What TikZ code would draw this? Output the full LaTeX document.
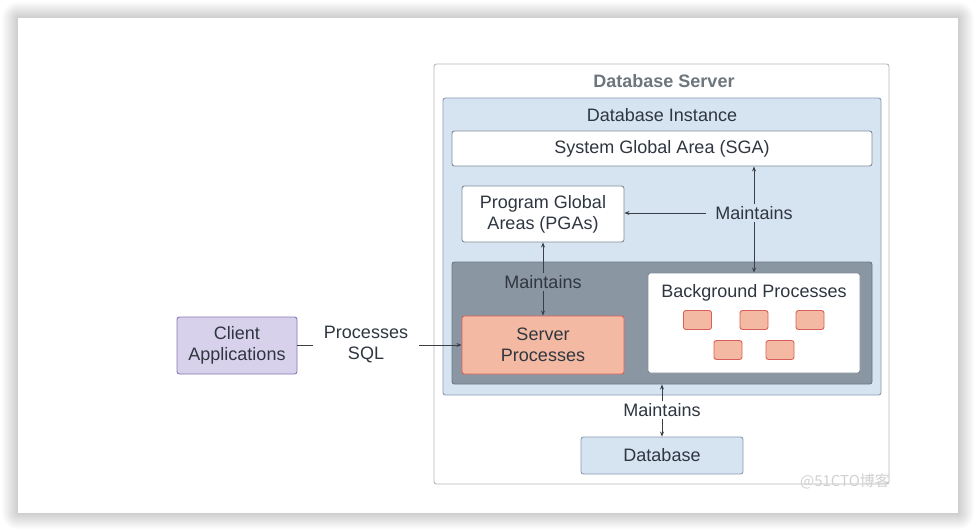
\documentclass[tikz,border=0pt]{standalone}
\usepackage{fontspec}
\setmainfont{Liberation Sans}
\newfontfamily\cjkfont{Noto Sans CJK SC}
\usetikzlibrary{arrows.meta}
\definecolor{txt}{HTML}{2F3640}
\definecolor{srvborder}{HTML}{B8B8B8}
\definecolor{srvtitle}{HTML}{6D757D}
\definecolor{instfill}{HTML}{D6E4F1}
\definecolor{instborder}{HTML}{8A9BB0}
\definecolor{darkfill}{HTML}{8B96A3}
\definecolor{darkborder}{HTML}{6B7785}
\definecolor{wborder}{HTML}{7F8C99}
\definecolor{spfill}{HTML}{F4B9A2}
\definecolor{spborder}{HTML}{D9605A}
\definecolor{clfill}{HTML}{D8D1EC}
\definecolor{clborder}{HTML}{8679B3}
\definecolor{arrcol}{HTML}{3A3F45}
\tikzset{
  every node/.style={font=\fontsize{18pt}{21pt}\selectfont, text=txt, align=center},
  box/.style={draw, line width=0.9pt, rounded corners=2.5pt, inner sep=0pt},
  whitebox/.style={box, fill=white, draw=wborder},
  container/.style={box},
  lbl/.style={inner xsep=9pt, inner ysep=2pt},
  arr/.style={draw=arrcol, line width=0.8pt, -{Stealth[length=5pt,width=4pt]}},
  plain/.style={draw=arrcol, line width=0.8pt},
  smallbox/.style={box, fill=spfill, draw=spborder, minimum width=28pt, minimum height=19pt},
}
\begin{document}
\begin{tikzpicture}[x=1pt,y=-1pt]
\useasboundingbox (0,0) rectangle (977,531);
\fill[white] (0,0) rectangle (977,531);
% card shadow
\foreach \i in {0,...,16} {
  \fill[black, opacity=0.012, rounded corners=\i pt] (18-\i,18-\i) rectangle (958+\i,513+\i);
}
\fill[white] (18,18) rectangle (958,513);

% containers
\node[container, fill=white, draw=srvborder, minimum width=455pt, minimum height=420pt] (server) at (661.5,274) {};
\node[font=\bfseries\fontsize{18pt}{21pt}\selectfont, text=srvtitle] (servertitle) at (664,81) {Database Server};
\node[container, fill=instfill, draw=instborder, minimum width=438pt, minimum height=297pt] (inst) at (662,246.5) {};
\node (insttitle) at (662,115) {Database Instance};

\node[whitebox, minimum width=420pt, minimum height=35pt] (sga) at (662,148.5) {System Global Area (SGA)};
\node[whitebox, minimum width=162pt, minimum height=56pt] (pga) at (543,214) {Program Global\\Areas (PGAs)};

\node[container, fill=darkfill, draw=darkborder, minimum width=420pt, minimum height=122pt] (dark) at (662,323) {};

\node[box, fill=spfill, draw=spborder, minimum width=162pt, minimum height=58pt] (sp) at (543,345) {Server\\Processes};
\node[whitebox, minimum width=212pt, minimum height=100pt] (bg) at (754,323) {};
\node (bgtitle) at (754,292.5) {Background Processes};
\node[smallbox] (b1) at (697.5,320) {};
\node[smallbox] (b2) at (754,320) {};
\node[smallbox] (b3) at (810,320) {};
\node[smallbox] (b4) at (728,350) {};
\node[smallbox] (b5) at (780,350) {};

\node[box, fill=instfill, draw=instborder, minimum width=162pt, minimum height=37pt] (db) at (662,455.5) {Database};
\node[box, fill=clfill, draw=clborder, minimum width=120pt, minimum height=57pt] (client) at (237,345.5) {Client\\Applications};

% labels
\node[lbl] (mr) at (754,213) {Maintains};
\node[lbl] (ml) at (543,282) {Maintains};
\node[lbl] (mb) at (662,410) {Maintains};
\node[lbl, inner xsep=11pt] (psql) at (366,344.5) {Processes\\SQL};

% connectors
\draw[arr] (mr.north) -- (sga.south -| mr.north);
\draw[arr] (mr.south) -- (bg.north -| mr.south);
\draw[arr] (mr.west) -- (pga.east |- mr.west);
\draw[arr] (ml.north) -- (pga.south);
\draw[arr] (ml.south) -- (sp.north);
\draw[arr] (mb.north) -- (dark.south);
\draw[arr] (mb.south) -- (db.north);
\draw[plain] (client.east) -- (psql.west |- client.east);
\draw[arr] (psql.east |- sp.west) -- (sp.west);

% watermark
\node[font=\cjkfont\fontsize{15pt}{17pt}\selectfont, text=black!18] (wm) at (845,481) {@51CTO博客};
\end{tikzpicture}
\end{document}
